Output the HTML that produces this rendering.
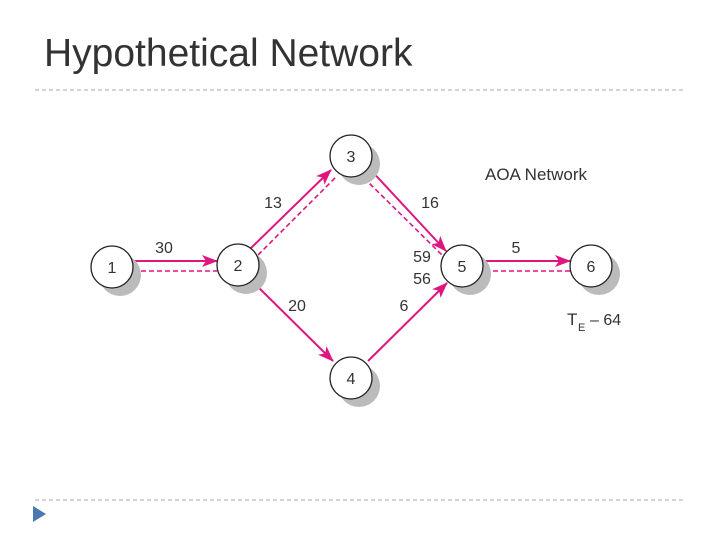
<!DOCTYPE html>
<html><head><style>
body{margin:0;width:720px;height:540px;background:#fff;overflow:hidden;font-family:"Liberation Sans",sans-serif}
</style></head><body>
<svg width="720" height="540" xmlns="http://www.w3.org/2000/svg" font-family="Liberation Sans, sans-serif">
<text x="44" y="66" font-size="39" fill="#333">Hypothetical Network</text>
<line x1="35" y1="90" x2="685" y2="90" stroke="#aaa" stroke-dasharray="4,3"/>
<line x1="35" y1="500" x2="685" y2="500" stroke="#aaa" stroke-dasharray="4,3"/>
<polygon points="33,506 46,514 33,522" fill="#4a78b0"/>
<defs>
<marker id="b" markerWidth="16" markerHeight="12" refX="15" refY="6" orient="auto" markerUnits="userSpaceOnUse" viewBox="0 0 16 12"><polygon points="0,0 16,6 0,12 4,6" fill="#e0157f"/></marker></defs>
<g stroke="#e0157f" stroke-width="2" fill="none">
<line x1="133" y1="261" x2="217" y2="261" marker-end="url(#b)"/>
<line x1="250" y1="249" x2="331" y2="170" marker-end="url(#b)"/>
<line x1="368" y1="167" x2="446" y2="251" marker-end="url(#b)"/>
<line x1="254" y1="283" x2="333" y2="361" marker-end="url(#b)"/>
<line x1="368" y1="361" x2="447" y2="283" marker-end="url(#b)"/>
<line x1="485" y1="261" x2="570" y2="261" marker-end="url(#b)"/>
</g>
<g stroke="#e0157f" stroke-width="1.6" fill="none" stroke-dasharray="5,3">
<line x1="133" y1="271" x2="217" y2="271"/>
<line x1="258" y1="255" x2="337" y2="176"/>
<line x1="364" y1="178" x2="445" y2="258"/>
<line x1="485" y1="271" x2="570" y2="271"/>
</g>
<g fill="#bbb">
<circle cx="120" cy="275" r="21"/><circle cx="246" cy="273" r="21"/><circle cx="359" cy="164" r="21"/>
<circle cx="359" cy="386" r="21"/><circle cx="470" cy="274" r="21"/><circle cx="599" cy="274" r="21"/>
</g>
<g fill="#fff" stroke="#222" stroke-width="1.3">
<circle cx="112" cy="267" r="21"/><circle cx="238" cy="265" r="21"/><circle cx="351" cy="156" r="21"/>
<circle cx="351" cy="378" r="21"/><circle cx="462" cy="266" r="21"/><circle cx="591" cy="266" r="21"/>
</g>
<g font-size="16" fill="#333" text-anchor="middle">
<text x="112" y="273">1</text><text x="238" y="271">2</text><text x="351" y="162">3</text>
<text x="351" y="384">4</text><text x="462" y="272">5</text><text x="591" y="272">6</text>
<text x="164" y="253">30</text><text x="273" y="208">13</text><text x="430" y="208">16</text>
<text x="297" y="311">20</text><text x="404" y="311">6</text><text x="516" y="253">5</text>
<text x="422" y="262">59</text><text x="422" y="284">56</text>
</g>
<text x="485" y="180" font-size="17" fill="#333">AOA Network</text>
<text x="567" y="325" font-size="17" fill="#333">T</text>
<text x="578" y="331" font-size="11" fill="#333">E</text>
<text x="590" y="325" font-size="16" fill="#333">– 64</text>
</svg>
</body></html>
